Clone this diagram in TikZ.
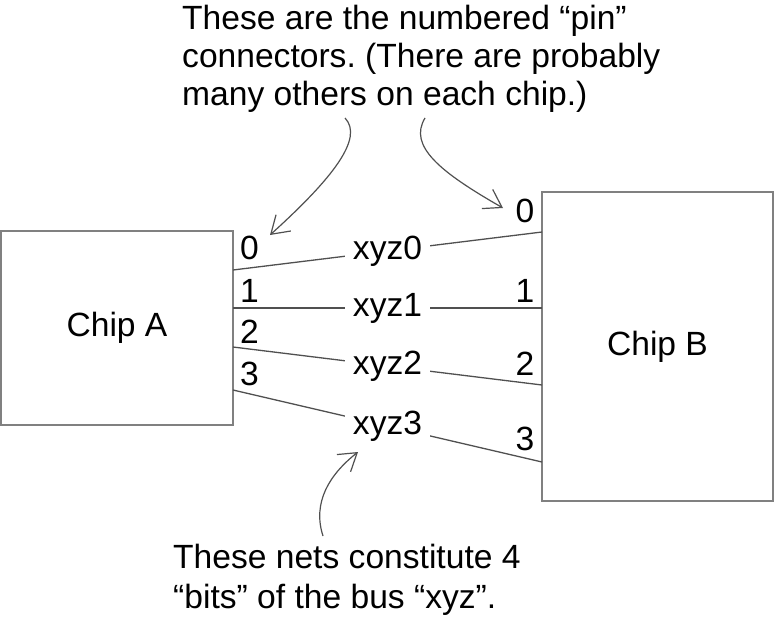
\documentclass[tikz,border=0pt]{standalone}
\usepackage{fontspec}
\setmainfont{Liberation Sans}
\usetikzlibrary{arrows.meta}
\definecolor{boxgray}{HTML}{808080}
\definecolor{netgray}{HTML}{505050}
\frenchspacing

\begin{document}
\begin{tikzpicture}[x=1pt,y=-1pt,
    font=\fontsize{33.6}{39.5}\selectfont,
    chip/.style={draw=boxgray, line width=2pt, inner sep=0pt},
    net/.style={draw=netgray, line width=1.3pt},
    netlabel/.style={fill=white, inner xsep=8pt, inner ysep=1pt, midway},
    pinno/.style={inner sep=0pt},
    note/.style={inner sep=0pt, align=left, anchor=north west},
    callout/.style={draw=netgray, line width=1.2pt,
        -{Straight Barb[length=17pt,width=22pt,line width=1.2pt]}}
]
\useasboundingbox (0,0) rectangle (775,616);

% the two chips
\node[chip, minimum width=232pt, minimum height=194pt] (chipA) at (117,328) {Chip A};
\node[chip, minimum width=231pt, minimum height=309pt] (chipB) at (657.5,346.5) {Chip B};

% pins on the chip edges
\coordinate (a0) at (233,270);
\coordinate (a1) at (233,308);
\coordinate (a2) at (233,347);
\coordinate (a3) at (233,390);
\coordinate (b0) at (542,232);
\coordinate (b1) at (542,308);
\coordinate (b2) at (542,385);
\coordinate (b3) at (542,462);

% the nets of the bus
\draw[net] (a0) -- node[netlabel] (xyz0) {xyz0} (b0);
\draw[net] (a1) -- node[netlabel] (xyz1) {xyz1} (b1);
\draw[net] (a2) -- node[netlabel] (xyz2) {xyz2} (b2);
\draw[net] (a3) -- node[netlabel] (xyz3) {xyz3} (b3);

% pin numbers
\node[pinno, anchor=base west] (pa0) at (240,259) {0};
\node[pinno, anchor=base west] (pa1) at (240,302) {1};
\node[pinno, anchor=base west] (pa2) at (240,343) {2};
\node[pinno, anchor=base west] (pa3) at (240,385) {3};
\node[pinno, anchor=base east] (pb0) at (534.5,222) {0};
\node[pinno, anchor=base east] (pb1) at (534.5,302) {1};
\node[pinno, anchor=base east] (pb2) at (534.5,375) {2};
\node[pinno, anchor=base east] (pb3) at (534.5,450) {3};

% notes
\node[note, font=\fontsize{33.6}{38}\selectfont] (topnote) at (182,5) {These are the numbered “pin”\\connectors. (There are probably\\many others on each chip.)};
\node[note, font=\fontsize{33.6}{40}\selectfont] (botnote) at (173,543.5) {These nets constitute 4\\“bits” of the bus “xyz”.};

% callout arrows
\coordinate (t1) at (345,118);
\coordinate (t2) at (425,118);
\coordinate (h1) at (270,235);
\coordinate (h2) at (503,208);
\coordinate (s3) at (323,536);
\coordinate (h3) at (358,452);
\draw[callout] (t1) .. controls (364,138) and (333,178) .. (h1);
\draw[callout] (t2) .. controls (408,146) and (440,172) .. (h2);
\draw[callout] (s3) .. controls (312,502) and (330,474) .. (h3);

\end{tikzpicture}
\end{document}
